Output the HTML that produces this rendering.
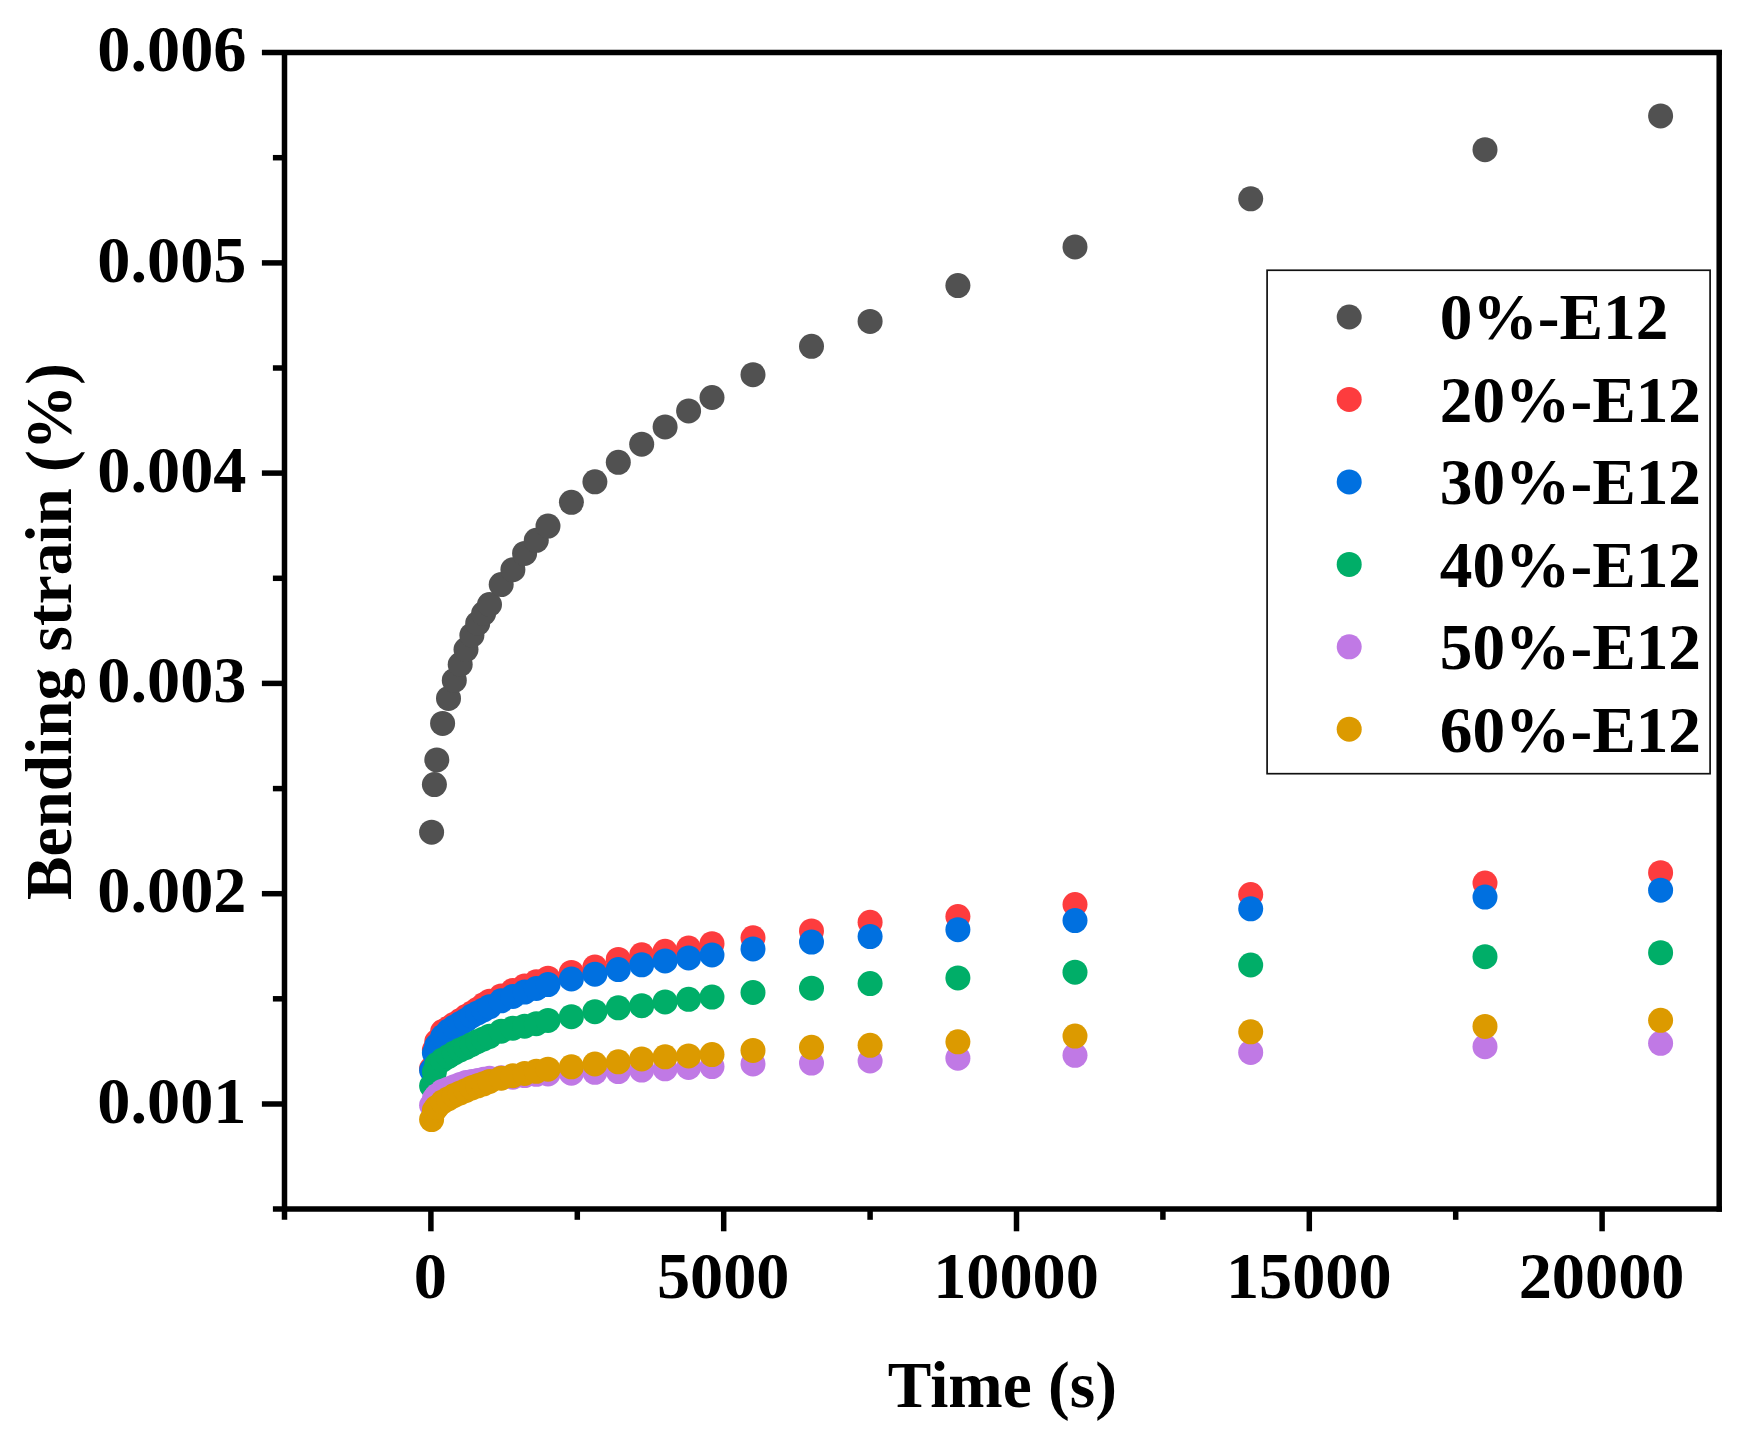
<!DOCTYPE html>
<html lang="en"><head><meta charset="utf-8"><title>Bending strain vs time</title>
<style>html,body{margin:0;padding:0;background:#fff}body{width:1744px;height:1439px;overflow:hidden}svg{display:block}text{font-family:'Liberation Serif','Times New Roman',serif;font-weight:bold;font-size:65.3px;fill:#000}.tk{font-size:66.3px}</style></head><body>
<svg width="1744" height="1439" viewBox="0 0 1744 1439">
<rect width="1744" height="1439" fill="#fff"/>
<g fill="#515151">
<circle cx="431.6" cy="832.2" r="12.5"/>
<circle cx="434.4" cy="784.6" r="12.5"/>
<circle cx="436.8" cy="759.9" r="12.5"/>
<circle cx="442.6" cy="723.4" r="12.5"/>
<circle cx="448.5" cy="698.4" r="12.5"/>
<circle cx="454.3" cy="680.4" r="12.5"/>
<circle cx="460.2" cy="664.5" r="12.5"/>
<circle cx="466.0" cy="649.6" r="12.5"/>
<circle cx="471.9" cy="635.2" r="12.5"/>
<circle cx="477.7" cy="623.4" r="12.5"/>
<circle cx="483.6" cy="613.5" r="12.5"/>
<circle cx="489.5" cy="604.5" r="12.5"/>
<circle cx="501.2" cy="584.5" r="12.5"/>
<circle cx="512.9" cy="569.7" r="12.5"/>
<circle cx="524.6" cy="553.4" r="12.5"/>
<circle cx="536.3" cy="540.3" r="12.5"/>
<circle cx="548.0" cy="526.1" r="12.5"/>
<circle cx="571.4" cy="502.3" r="12.5"/>
<circle cx="594.9" cy="481.8" r="12.5"/>
<circle cx="618.3" cy="462.3" r="12.5"/>
<circle cx="641.7" cy="444.2" r="12.5"/>
<circle cx="665.1" cy="426.9" r="12.5"/>
<circle cx="688.6" cy="410.9" r="12.5"/>
<circle cx="712.0" cy="397.5" r="12.5"/>
<circle cx="753.0" cy="374.7" r="12.5"/>
<circle cx="811.5" cy="346.3" r="12.5"/>
<circle cx="870.1" cy="321.4" r="12.5"/>
<circle cx="957.9" cy="285.6" r="12.5"/>
<circle cx="1075.0" cy="246.9" r="12.5"/>
<circle cx="1250.7" cy="198.8" r="12.5"/>
<circle cx="1485.0" cy="149.7" r="12.5"/>
<circle cx="1660.6" cy="115.9" r="12.5"/>
</g>
<g fill="#fd3c3e">
<circle cx="431.6" cy="1068.5" r="12.5"/>
<circle cx="434.4" cy="1050.0" r="12.5"/>
<circle cx="436.8" cy="1041.5" r="12.5"/>
<circle cx="442.6" cy="1031.5" r="12.5"/>
<circle cx="448.5" cy="1028.0" r="12.5"/>
<circle cx="454.3" cy="1024.2" r="12.5"/>
<circle cx="460.2" cy="1020.5" r="12.5"/>
<circle cx="466.0" cy="1016.5" r="12.5"/>
<circle cx="471.9" cy="1013.0" r="12.5"/>
<circle cx="477.7" cy="1009.2" r="12.5"/>
<circle cx="483.6" cy="1004.8" r="12.5"/>
<circle cx="489.5" cy="1001.2" r="12.5"/>
<circle cx="501.2" cy="995.9" r="12.5"/>
<circle cx="512.9" cy="990.4" r="12.5"/>
<circle cx="524.6" cy="986.1" r="12.5"/>
<circle cx="536.3" cy="981.8" r="12.5"/>
<circle cx="548.0" cy="978.2" r="12.5"/>
<circle cx="571.4" cy="972.4" r="12.5"/>
<circle cx="594.9" cy="967.0" r="12.5"/>
<circle cx="618.3" cy="959.4" r="12.5"/>
<circle cx="641.7" cy="954.8" r="12.5"/>
<circle cx="665.1" cy="951.3" r="12.5"/>
<circle cx="688.6" cy="948.0" r="12.5"/>
<circle cx="712.0" cy="943.7" r="12.5"/>
<circle cx="753.0" cy="937.8" r="12.5"/>
<circle cx="811.5" cy="930.9" r="12.5"/>
<circle cx="870.1" cy="922.3" r="12.5"/>
<circle cx="957.9" cy="916.5" r="12.5"/>
<circle cx="1075.0" cy="904.5" r="12.5"/>
<circle cx="1250.7" cy="894.5" r="12.5"/>
<circle cx="1485.0" cy="883.0" r="12.5"/>
<circle cx="1660.6" cy="872.7" r="12.5"/>
</g>
<g fill="#0070e0">
<circle cx="431.6" cy="1070.3" r="12.5"/>
<circle cx="434.4" cy="1053.0" r="12.5"/>
<circle cx="436.8" cy="1045.5" r="12.5"/>
<circle cx="442.6" cy="1036.8" r="12.5"/>
<circle cx="448.5" cy="1031.0" r="12.5"/>
<circle cx="454.3" cy="1027.0" r="12.5"/>
<circle cx="460.2" cy="1023.6" r="12.5"/>
<circle cx="466.0" cy="1020.2" r="12.5"/>
<circle cx="471.9" cy="1016.0" r="12.5"/>
<circle cx="477.7" cy="1013.0" r="12.5"/>
<circle cx="483.6" cy="1010.0" r="12.5"/>
<circle cx="489.5" cy="1006.8" r="12.5"/>
<circle cx="501.2" cy="1000.8" r="12.5"/>
<circle cx="512.9" cy="996.4" r="12.5"/>
<circle cx="524.6" cy="992.1" r="12.5"/>
<circle cx="536.3" cy="988.5" r="12.5"/>
<circle cx="548.0" cy="984.6" r="12.5"/>
<circle cx="571.4" cy="979.0" r="12.5"/>
<circle cx="594.9" cy="974.2" r="12.5"/>
<circle cx="618.3" cy="969.6" r="12.5"/>
<circle cx="641.7" cy="964.8" r="12.5"/>
<circle cx="665.1" cy="960.9" r="12.5"/>
<circle cx="688.6" cy="957.9" r="12.5"/>
<circle cx="712.0" cy="955.0" r="12.5"/>
<circle cx="753.0" cy="948.9" r="12.5"/>
<circle cx="811.5" cy="942.1" r="12.5"/>
<circle cx="870.1" cy="936.6" r="12.5"/>
<circle cx="957.9" cy="929.7" r="12.5"/>
<circle cx="1075.0" cy="920.6" r="12.5"/>
<circle cx="1250.7" cy="908.8" r="12.5"/>
<circle cx="1485.0" cy="897.1" r="12.5"/>
<circle cx="1660.6" cy="890.2" r="12.5"/>
</g>
<g fill="#00ae68">
<circle cx="431.6" cy="1085.8" r="12.5"/>
<circle cx="434.4" cy="1072.0" r="12.5"/>
<circle cx="436.8" cy="1064.5" r="12.5"/>
<circle cx="442.6" cy="1060.0" r="12.5"/>
<circle cx="448.5" cy="1056.5" r="12.5"/>
<circle cx="454.3" cy="1053.0" r="12.5"/>
<circle cx="460.2" cy="1050.0" r="12.5"/>
<circle cx="466.0" cy="1047.4" r="12.5"/>
<circle cx="471.9" cy="1044.5" r="12.5"/>
<circle cx="477.7" cy="1041.5" r="12.5"/>
<circle cx="483.6" cy="1039.0" r="12.5"/>
<circle cx="489.5" cy="1036.3" r="12.5"/>
<circle cx="501.2" cy="1031.2" r="12.5"/>
<circle cx="512.9" cy="1028.2" r="12.5"/>
<circle cx="524.6" cy="1026.2" r="12.5"/>
<circle cx="536.3" cy="1023.7" r="12.5"/>
<circle cx="548.0" cy="1020.4" r="12.5"/>
<circle cx="571.4" cy="1016.7" r="12.5"/>
<circle cx="594.9" cy="1011.7" r="12.5"/>
<circle cx="618.3" cy="1007.8" r="12.5"/>
<circle cx="641.7" cy="1005.7" r="12.5"/>
<circle cx="665.1" cy="1001.9" r="12.5"/>
<circle cx="688.6" cy="999.3" r="12.5"/>
<circle cx="712.0" cy="997.1" r="12.5"/>
<circle cx="753.0" cy="992.5" r="12.5"/>
<circle cx="811.5" cy="988.2" r="12.5"/>
<circle cx="870.1" cy="983.6" r="12.5"/>
<circle cx="957.9" cy="977.9" r="12.5"/>
<circle cx="1075.0" cy="972.2" r="12.5"/>
<circle cx="1250.7" cy="965.0" r="12.5"/>
<circle cx="1485.0" cy="956.7" r="12.5"/>
<circle cx="1660.6" cy="952.7" r="12.5"/>
</g>
<g fill="#c079e5">
<circle cx="431.6" cy="1105.3" r="12.5"/>
<circle cx="434.4" cy="1098.8" r="12.5"/>
<circle cx="436.8" cy="1095.8" r="12.5"/>
<circle cx="442.6" cy="1091.2" r="12.5"/>
<circle cx="448.5" cy="1089.0" r="12.5"/>
<circle cx="454.3" cy="1086.7" r="12.5"/>
<circle cx="460.2" cy="1084.4" r="12.5"/>
<circle cx="466.0" cy="1082.5" r="12.5"/>
<circle cx="471.9" cy="1081.6" r="12.5"/>
<circle cx="477.7" cy="1080.4" r="12.5"/>
<circle cx="483.6" cy="1079.2" r="12.5"/>
<circle cx="489.5" cy="1078.2" r="12.5"/>
<circle cx="501.2" cy="1077.7" r="12.5"/>
<circle cx="512.9" cy="1077.2" r="12.5"/>
<circle cx="524.6" cy="1075.6" r="12.5"/>
<circle cx="536.3" cy="1074.3" r="12.5"/>
<circle cx="548.0" cy="1073.9" r="12.5"/>
<circle cx="571.4" cy="1073.2" r="12.5"/>
<circle cx="594.9" cy="1072.3" r="12.5"/>
<circle cx="618.3" cy="1071.6" r="12.5"/>
<circle cx="641.7" cy="1070.1" r="12.5"/>
<circle cx="665.1" cy="1068.8" r="12.5"/>
<circle cx="688.6" cy="1067.5" r="12.5"/>
<circle cx="712.0" cy="1066.6" r="12.5"/>
<circle cx="753.0" cy="1063.9" r="12.5"/>
<circle cx="811.5" cy="1063.1" r="12.5"/>
<circle cx="870.1" cy="1061.0" r="12.5"/>
<circle cx="957.9" cy="1058.2" r="12.5"/>
<circle cx="1075.0" cy="1055.3" r="12.5"/>
<circle cx="1250.7" cy="1052.4" r="12.5"/>
<circle cx="1485.0" cy="1046.7" r="12.5"/>
<circle cx="1660.6" cy="1043.3" r="12.5"/>
</g>
<g fill="#dc9a00">
<circle cx="431.6" cy="1119.6" r="12.5"/>
<circle cx="434.4" cy="1110.3" r="12.5"/>
<circle cx="436.8" cy="1107.2" r="12.5"/>
<circle cx="442.6" cy="1102.0" r="12.5"/>
<circle cx="448.5" cy="1098.7" r="12.5"/>
<circle cx="454.3" cy="1095.5" r="12.5"/>
<circle cx="460.2" cy="1093.0" r="12.5"/>
<circle cx="466.0" cy="1090.5" r="12.5"/>
<circle cx="471.9" cy="1087.8" r="12.5"/>
<circle cx="477.7" cy="1085.8" r="12.5"/>
<circle cx="483.6" cy="1083.8" r="12.5"/>
<circle cx="489.5" cy="1081.4" r="12.5"/>
<circle cx="501.2" cy="1078.2" r="12.5"/>
<circle cx="512.9" cy="1075.7" r="12.5"/>
<circle cx="524.6" cy="1073.4" r="12.5"/>
<circle cx="536.3" cy="1071.3" r="12.5"/>
<circle cx="548.0" cy="1069.2" r="12.5"/>
<circle cx="571.4" cy="1066.8" r="12.5"/>
<circle cx="594.9" cy="1064.0" r="12.5"/>
<circle cx="618.3" cy="1061.8" r="12.5"/>
<circle cx="641.7" cy="1058.9" r="12.5"/>
<circle cx="665.1" cy="1056.8" r="12.5"/>
<circle cx="688.6" cy="1055.9" r="12.5"/>
<circle cx="712.0" cy="1054.6" r="12.5"/>
<circle cx="753.0" cy="1050.4" r="12.5"/>
<circle cx="811.5" cy="1047.3" r="12.5"/>
<circle cx="870.1" cy="1045.3" r="12.5"/>
<circle cx="957.9" cy="1041.8" r="12.5"/>
<circle cx="1075.0" cy="1036.1" r="12.5"/>
<circle cx="1250.7" cy="1031.8" r="12.5"/>
<circle cx="1485.0" cy="1026.4" r="12.5"/>
<circle cx="1660.6" cy="1020.3" r="12.5"/>
</g>
<g stroke="#000" stroke-width="5.5" fill="none" stroke-linecap="butt">
<path d="M261.9 52.6 H1722.0"/>
<path d="M1719.2 52.6 V1211.8"/>
<path d="M284.5 49.9 V1219.8"/>
<path d="M272.9 1209.1 H1722.0"/>
<path d="M261.9 1104.0 H284.5"/>
<path d="M272.9 998.8 H284.5"/>
<path d="M261.9 893.7 H284.5"/>
<path d="M272.9 788.6 H284.5"/>
<path d="M261.9 683.4 H284.5"/>
<path d="M272.9 578.3 H284.5"/>
<path d="M261.9 473.1 H284.5"/>
<path d="M272.9 368.0 H284.5"/>
<path d="M261.9 262.9 H284.5"/>
<path d="M272.9 157.7 H284.5"/>
<path d="M430.9 1209.1 V1231.3"/>
<path d="M577.3 1209.1 V1219.8"/>
<path d="M723.7 1209.1 V1231.3"/>
<path d="M870.1 1209.1 V1219.8"/>
<path d="M1016.5 1209.1 V1231.3"/>
<path d="M1162.9 1209.1 V1219.8"/>
<path d="M1309.3 1209.1 V1231.3"/>
<path d="M1455.7 1209.1 V1219.8"/>
<path d="M1602.1 1209.1 V1231.3"/>
<path d="M1748.5 1209.1 V1219.8"/>
</g>
<text class="tk" x="246.5" y="1122.6" text-anchor="end">0.001</text>
<text class="tk" x="246.5" y="912.3" text-anchor="end">0.002</text>
<text class="tk" x="246.5" y="702.0" text-anchor="end">0.003</text>
<text class="tk" x="246.5" y="491.7" text-anchor="end">0.004</text>
<text class="tk" x="246.5" y="281.5" text-anchor="end">0.005</text>
<text class="tk" x="246.5" y="71.2" text-anchor="end">0.006</text>
<text class="tk" x="430.4" y="1298.3" text-anchor="middle">0</text>
<text class="tk" x="723.2" y="1298.3" text-anchor="middle">5000</text>
<text class="tk" x="1016.0" y="1298.3" text-anchor="middle">10000</text>
<text class="tk" x="1308.8" y="1298.3" text-anchor="middle">15000</text>
<text class="tk" x="1601.6" y="1298.3" text-anchor="middle">20000</text>
<text x="1002.4" y="1406.7" text-anchor="middle">Time (s)</text>
<text transform="translate(71.3 631.6) rotate(-90)" text-anchor="middle">Bending strain (%)</text>
<rect x="1267.1" y="270.25" width="443" height="503.45" fill="#fff" stroke="#111" stroke-width="1.7"/>
<circle cx="1349.2" cy="317.0" r="12.5" fill="#515151"/>
<text x="1439.8" y="339.4">0%-E12</text>
<circle cx="1349.2" cy="399.4" r="12.5" fill="#fd3c3e"/>
<text x="1439.8" y="421.8">20%-E12</text>
<circle cx="1349.2" cy="481.9" r="12.5" fill="#0070e0"/>
<text x="1439.8" y="504.3">30%-E12</text>
<circle cx="1349.2" cy="564.4" r="12.5" fill="#00ae68"/>
<text x="1439.8" y="586.8">40%-E12</text>
<circle cx="1349.2" cy="646.8" r="12.5" fill="#c079e5"/>
<text x="1439.8" y="669.2">50%-E12</text>
<circle cx="1349.2" cy="729.2" r="12.5" fill="#dc9a00"/>
<text x="1439.8" y="751.6">60%-E12</text>
</svg></body></html>
